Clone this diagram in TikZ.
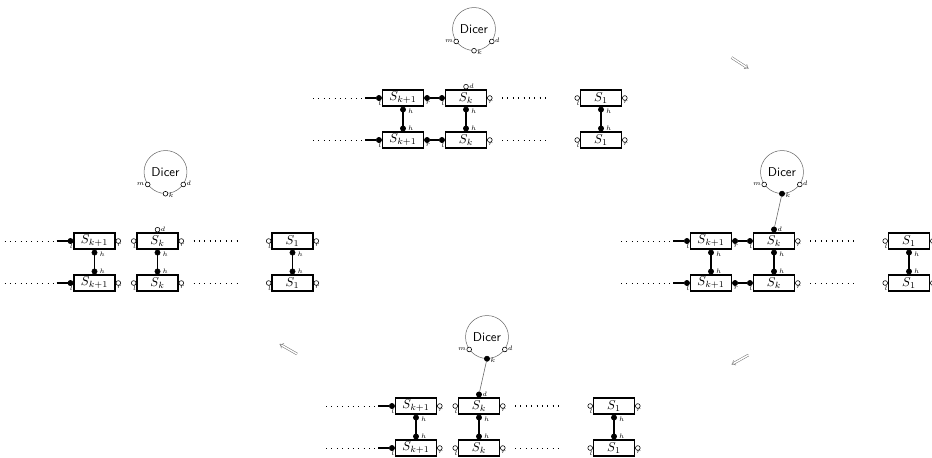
\documentclass[tikz,border=0pt]{standalone}
\usetikzlibrary{arrows.meta}
\tikzset{
  x=0.78pt, y=-0.78pt,
  box/.style={draw, line width=1pt, minimum width=32pt, minimum height=12.5pt, inner sep=0pt},
  oport/.style={circle, draw, line width=0.45pt, fill=white, inner sep=0pt, minimum size=3.7pt},
  fport/.style={circle, draw, line width=0.45pt, fill=black, inner sep=0pt, minimum size=4.1pt},
  plab/.style={font=\tiny, inner sep=0.2pt},
  lport/.style={label={[plab,anchor=north,xshift=0.7pt]south:$l$}},
  rport/.style={label={[plab,anchor=north,xshift=0.7pt]south:$r$}},
  hlow/.style={label={[plab,anchor=west,xshift=1.3pt,yshift=-1.1pt]east:$h$}},
  hhigh/.style={label={[plab,anchor=west,xshift=1.3pt,yshift=0.5pt]east:$h$}},
  dport/.style={label={[plab,anchor=west,yshift=0.5pt]east:$d$}},
  dicer/.style={circle, draw=black!60, line width=0.4pt, minimum size=33.5pt, inner sep=0pt, font=\sffamily},
  link/.style={line width=0.85pt},
  dots/.style={line width=0.6pt, dash pattern=on 0.6pt off 3.6pt},
  bolddots/.style={line width=0.8pt, dash pattern=on 0.8pt off 3.4pt},
  bind/.style={draw=black!60, line width=0.45pt},
  trans/.style={draw=black!60, line width=0.35pt, double, double distance=1.2pt, -{Implies}},
}
% one state of the chain: #1 prefix, (#2,#3) centre of the upper S_k,
% #4 style of the ports joining S_{k+1} and S_k, #5 style of the Dicer/S_k ports
\newcommand\mkpanel[5]{%
  \begin{scope}[shift={(#2,#3)}]
    \node[dicer] (#1-D) at (8,-69) {Dicer};
    \node[oport, label={[plab,anchor=east,yshift=0.5pt]west:$m$}] (#1-D-m) at (#1-D.215) {};
    \node[oport, label={[plab,anchor=west,yshift=1pt]east:$d$}] (#1-D-d) at (#1-D.325) {};
    \node[#5, label={[plab,anchor=west,yshift=-1pt]east:$k$}] (#1-D-k) at (#1-D.south) {};
    \foreach \r/\y/\ds in {1/0/bolddots, 2/42/dots} {
      \node[box] (#1-a\r) at (-63,\y) {$S_{k+1}$};
      \node[box] (#1-b\r) at (0,\y) {$S_k$};
      \node[box] (#1-c\r) at (135,\y) {$S_1$};
      \node[fport, lport, anchor=east] (#1-a\r-l) at (#1-a\r.west) {};
      \node[#4, rport, anchor=west] (#1-a\r-r) at (#1-a\r.east) {};
      \node[#4, lport, anchor=east] (#1-b\r-l) at (#1-b\r.west) {};
      \node[oport, rport, anchor=west] (#1-b\r-r) at (#1-b\r.east) {};
      \node[oport, lport, anchor=east] (#1-c\r-l) at (#1-c\r.west) {};
      \node[oport, rport, anchor=west] (#1-c\r-r) at (#1-c\r.east) {};
      \coordinate (#1-f\r) at (-153,\y);
      \coordinate (#1-e\r) at (-101,\y);
      \coordinate (#1-g\r) at (36,\y);
      \coordinate (#1-j\r) at (82,\y);
      \draw[dots] (#1-f\r) -- (#1-e\r);
      \draw[link] (#1-e\r) -- (#1-a\r-l);
      \draw[\ds] (#1-g\r) -- (#1-j\r);
    }
    \foreach \s in {a,b,c} {
      \node[fport, hlow, anchor=north] (#1-\s1-h) at (#1-\s1.south) {};
      \node[fport, hhigh, anchor=south] (#1-\s2-h) at (#1-\s2.north) {};
      \draw[link] (#1-\s1-h) -- (#1-\s2-h);
    }
    \node[#5, dport, anchor=south] (#1-b1-d) at (#1-b1.north) {};
  \end{scope}}
\begin{document}
\begin{tikzpicture}
  \useasboundingbox (0,0) rectangle (932,457);
  % top: both strands joined, Dicer free
  \mkpanel{A}{466}{98}{fport}{oport}
  \draw[link] (A-a1-r) -- (A-b1-l);
  \draw[link] (A-a2-r) -- (A-b2-l);
  % right: Dicer bound to S_k
  \mkpanel{B}{774}{241}{fport}{fport}
  \draw[link] (B-a1-r) -- (B-b1-l);
  \draw[link] (B-a2-r) -- (B-b2-l);
  \draw[bind] (B-D-k) -- (B-b1-d);
  % bottom: strands cut
  \mkpanel{C}{479}{406}{oport}{fport}
  \draw[bind] (C-D-k) -- (C-b1-d);
  % left: Dicer released
  \mkpanel{L}{157.5}{241}{oport}{oport}
  % transitions
  \coordinate (t1a) at (731.5,57.5);
  \coordinate (t1b) at (748.5,68.5);
  \coordinate (t2a) at (748.5,355);
  \coordinate (t2b) at (731.5,364.5);
  \coordinate (t3a) at (297,354);
  \coordinate (t3b) at (279.5,344);
  \draw[trans] (t1a) -- (t1b);
  \draw[trans] (t2a) -- (t2b);
  \draw[trans] (t3a) -- (t3b);
\end{tikzpicture}
\end{document}
